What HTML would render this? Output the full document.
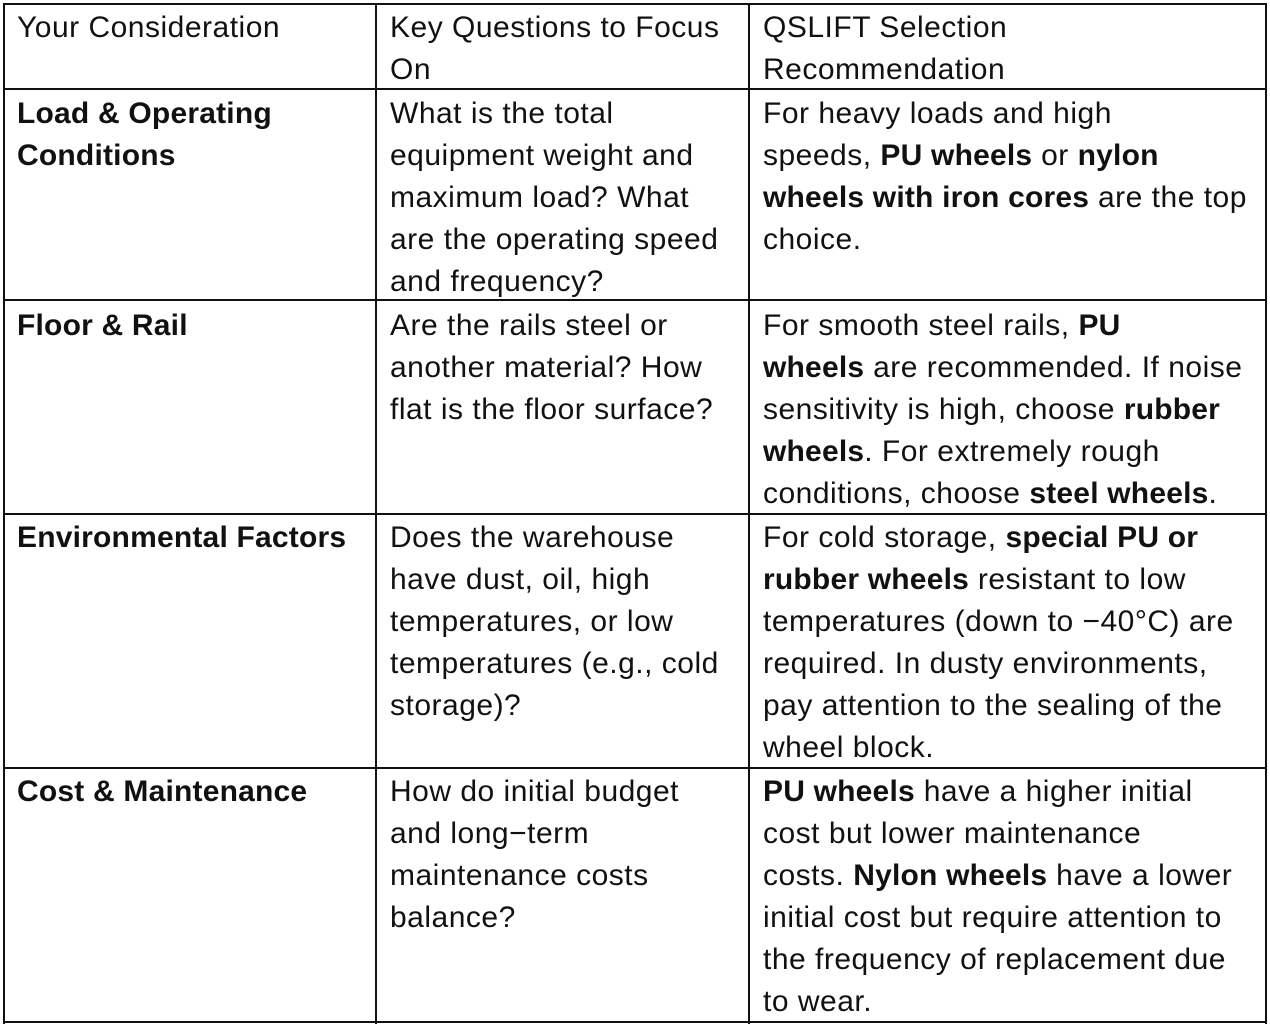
<!DOCTYPE html>
<html><head><meta charset="utf-8"><style>
html,body{margin:0;padding:0;background:#fff;}
body{width:1270px;height:1028px;position:relative;overflow:hidden;font-family:"Liberation Sans","Noto Sans CJK SC",sans-serif;font-size:30px;letter-spacing:0.5px;color:#111;}
.h{position:absolute;left:3px;width:1264px;height:2px;background:#111;}
.v{position:absolute;top:3px;height:1021px;width:2px;background:#111;}
.c{position:absolute;line-height:42px;white-space:nowrap;}
b{font-weight:bold;letter-spacing:0.2px;}
</style></head><body>
<div class="h" style="top:3px"></div>
<div class="h" style="top:88px"></div>
<div class="h" style="top:299px"></div>
<div class="h" style="top:513px"></div>
<div class="h" style="top:767px"></div>
<div class="h" style="top:1021px"></div>
<div class="v" style="left:3px"></div>
<div class="v" style="left:375px"></div>
<div class="v" style="left:748px"></div>
<div class="v" style="left:1265px"></div>

<div class="c" style="left:17px;top:7px">Your Consideration</div>
<div class="c" style="left:390px;top:7px">Key Questions to Focus<br>On</div>
<div class="c" style="left:763px;top:7px">QSLIFT Selection<br>Recommendation</div>

<div class="c" style="left:17px;top:93px"><b>Load &amp; Operating<br>Conditions</b></div>
<div class="c" style="left:390px;top:93px">What is the total<br>equipment weight and<br>maximum load? What<br>are the operating speed<br>and frequency?</div>
<div class="c" style="left:763px;top:93px">For heavy loads and high<br>speeds, <b>PU wheels</b> or <b>nylon</b><br><b>wheels with iron cores</b> are the top<br>choice.</div>

<div class="c" style="left:17px;top:305px"><b>Floor &amp; Rail</b></div>
<div class="c" style="left:390px;top:305px">Are the rails steel or<br>another material? How<br>flat is the floor surface?</div>
<div class="c" style="left:763px;top:305px">For smooth steel rails, <b>PU</b><br><b>wheels</b> are recommended. If noise<br>sensitivity is high, choose <b>rubber</b><br><b>wheels</b>. For extremely rough<br>conditions, choose <b>steel wheels</b>.</div>

<div class="c" style="left:17px;top:517px"><b>Environmental Factors</b></div>
<div class="c" style="left:390px;top:517px">Does the warehouse<br>have dust, oil, high<br>temperatures, or low<br>temperatures (e.g., cold<br>storage)?</div>
<div class="c" style="left:763px;top:517px">For cold storage, <b>special PU or</b><br><b>rubber wheels</b> resistant to low<br>temperatures (down to −40°C) are<br>required. In dusty environments,<br>pay attention to the sealing of the<br>wheel block.</div>

<div class="c" style="left:17px;top:771px"><b>Cost &amp; Maintenance</b></div>
<div class="c" style="left:390px;top:771px">How do initial budget<br>and long−term<br>maintenance costs<br>balance?</div>
<div class="c" style="left:763px;top:771px"><b>PU wheels</b> have a higher initial<br>cost but lower maintenance<br>costs. <b>Nylon wheels</b> have a lower<br>initial cost but require attention to<br>the frequency of replacement due<br>to wear.</div>
</body></html>
